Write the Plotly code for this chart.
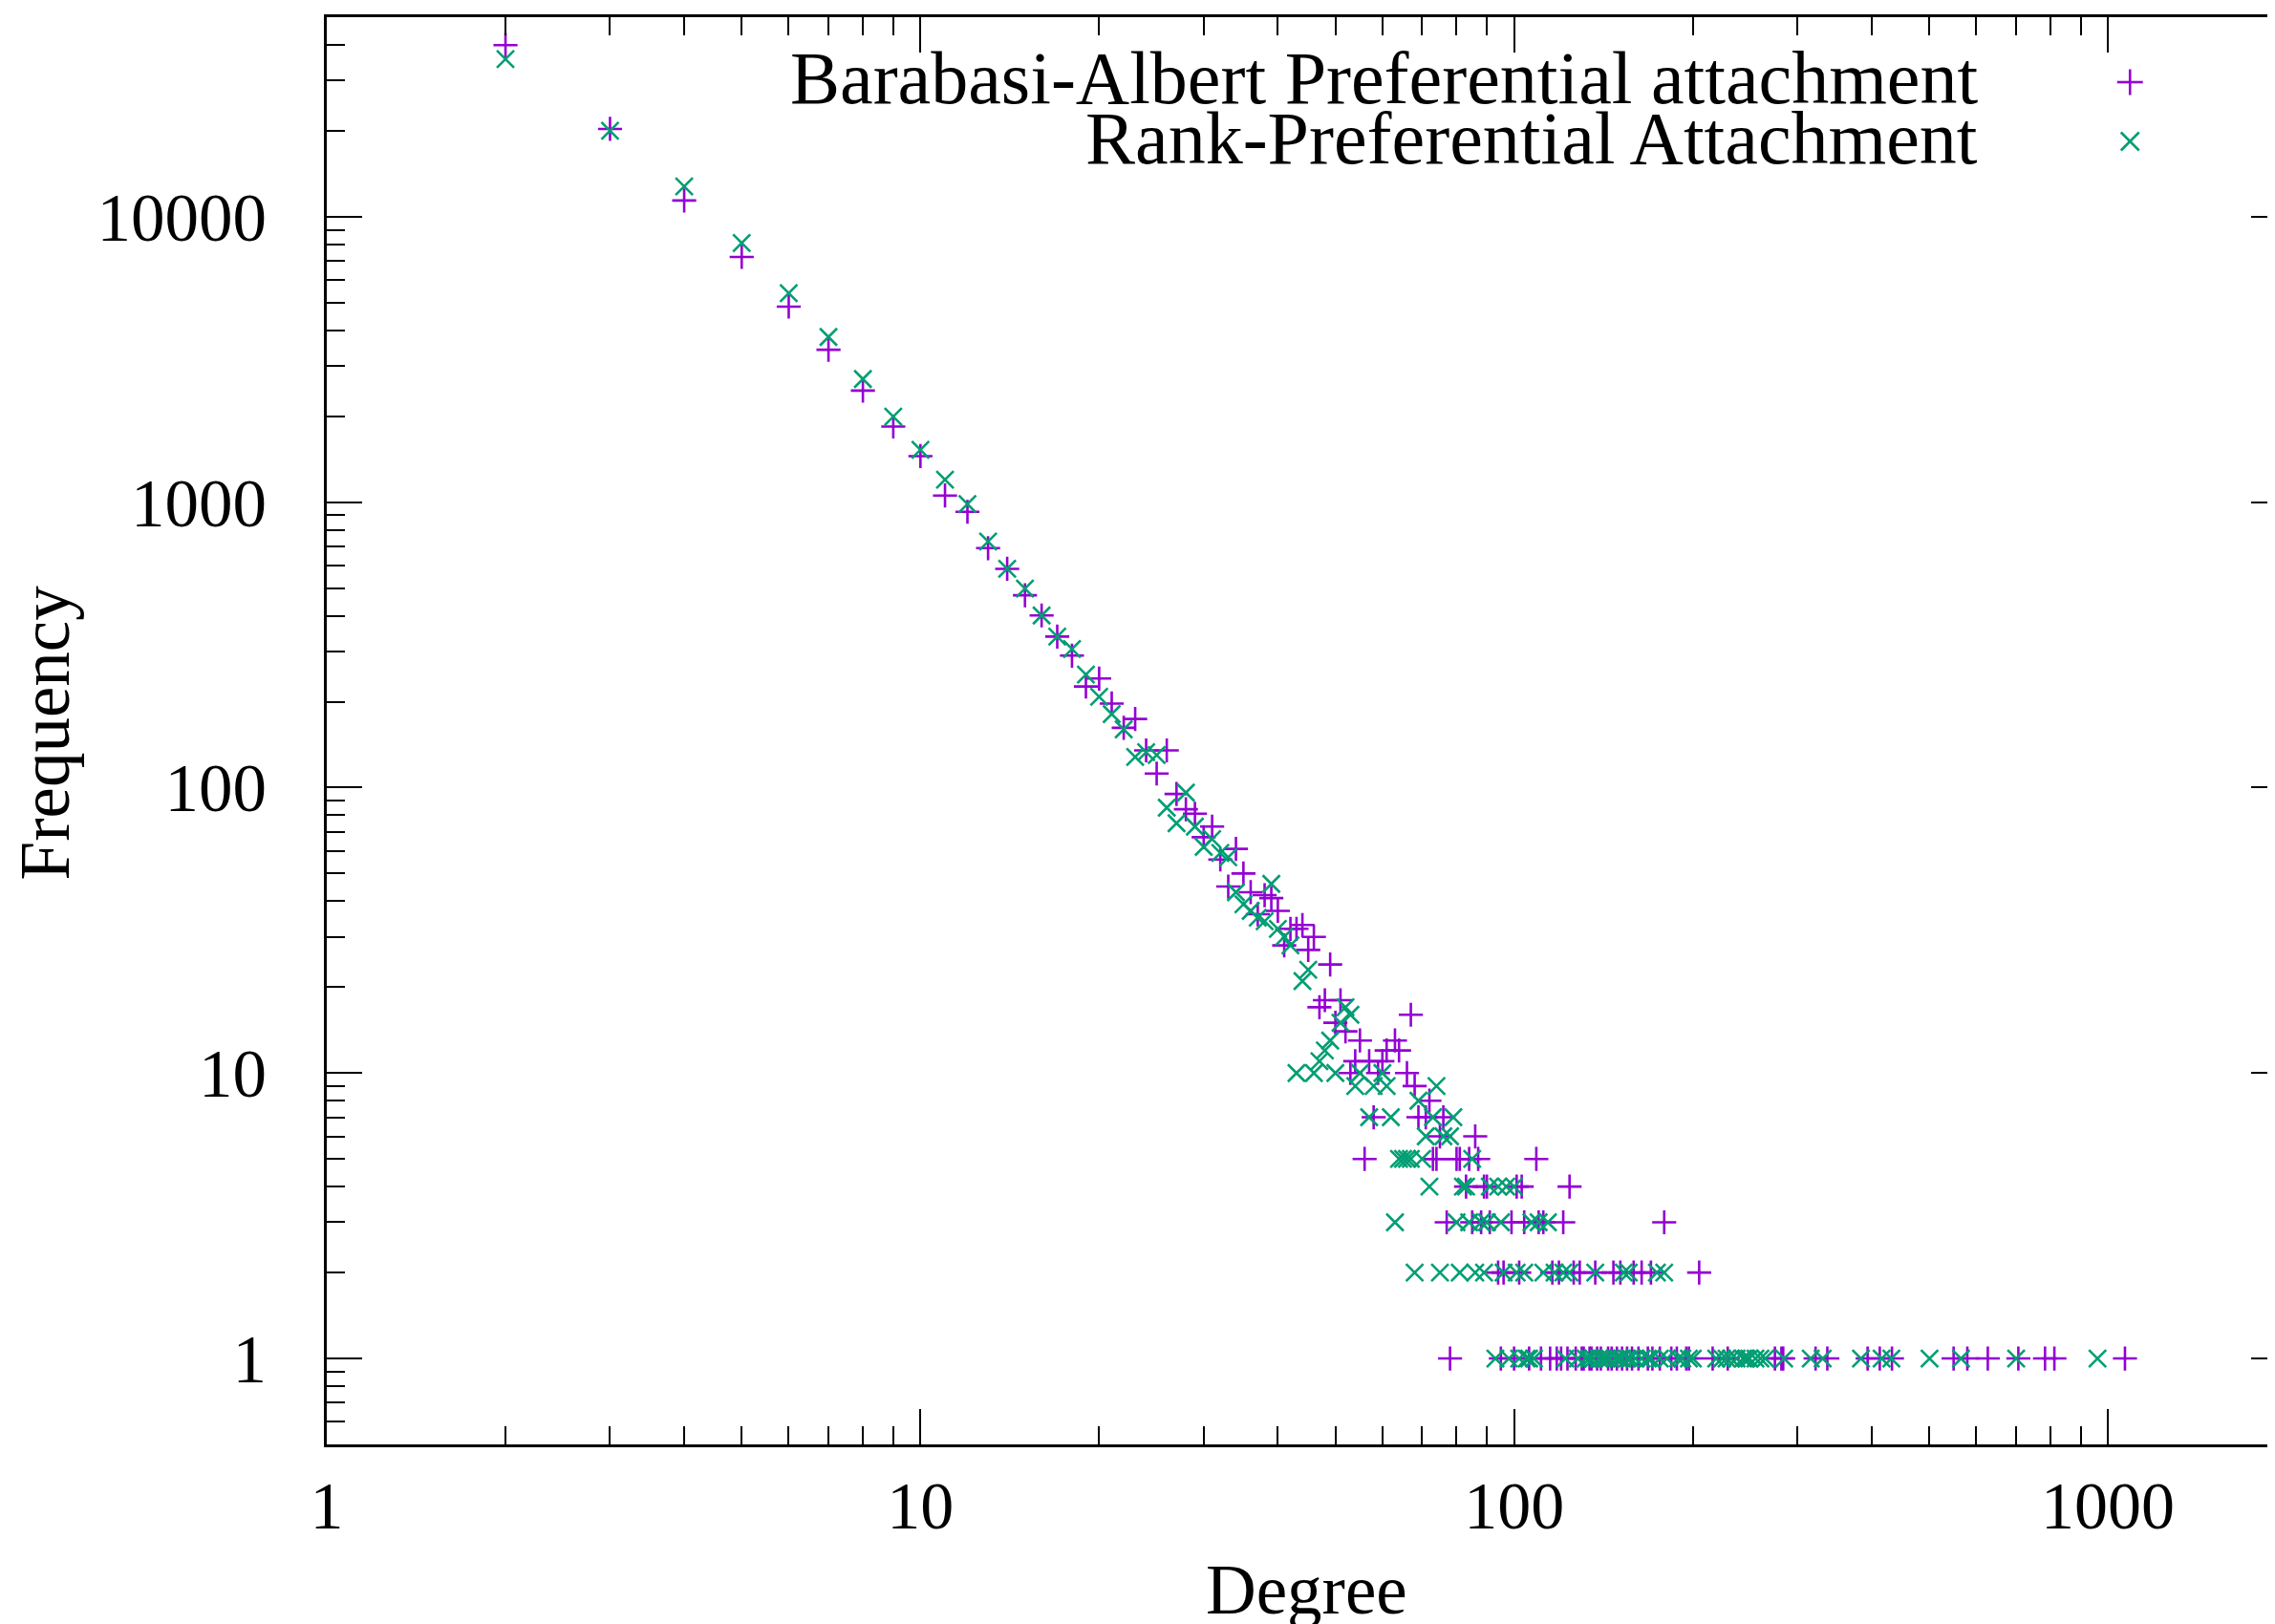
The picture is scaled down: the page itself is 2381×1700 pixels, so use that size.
import plotly.graph_objects as go

# ---------------- data ----------------
# Barabasi-Albert Preferential attachment (+)
ba_degree = [2, 3, 4, 5, 6, 7, 8, 9, 10, 11, 12, 13, 14, 15, 16, 17, 18, 19, 20, 21,
             22, 23, 24, 25, 26, 27, 28, 29, 30, 31, 32, 33, 34, 35, 36, 37, 38, 39, 40, 41,
             42, 43, 44, 45, 46, 47, 48, 49, 50, 51, 52, 53, 54, 55, 56, 57, 58, 59, 60, 61,
             63, 64, 66, 67, 68, 69, 71, 72, 73, 74, 75, 76, 77, 80, 81, 83, 84, 85, 86, 87,
             88, 89, 90, 91, 99, 101, 103, 104, 109, 110, 112, 121, 124, 179,
             94, 96, 102, 116, 119, 126, 129, 137, 147, 151, 159, 164, 170, 205,
             78, 95, 100, 106, 111, 115, 118, 120, 123, 127, 130, 131, 134, 135, 138, 140,
             144, 146, 149, 152, 155, 158, 162, 168, 171, 176, 184, 188, 195, 197, 216, 229,
             275, 282, 284, 322, 337, 394, 413, 433, 550, 580, 628, 707, 784, 813, 1069]
ba_freq = [39900, 20300, 11400, 7230, 4840, 3420, 2460, 1840, 1450, 1055, 925, 690, 584, 472, 401, 338, 290, 226, 241, 197,
           162, 174, 135, 112, 135, 95, 84, 81, 67, 73, 56, 45, 61, 50, 43, 36, 42, 41, 37, 28,
           32, 32, 33, 27, 30, 17, 18, 24, 15, 18, 14, 10, 11, 13, 5, 11, 7, 10, 11, 12,
           13, 12, 10, 16, 9, 7, 7, 8, 5, 5, 6, 7, 3, 5, 5, 4, 5, 3, 6, 5,
           3, 4, 4, 3, 3, 4, 4, 3, 5, 3, 3, 3, 4, 3,
           2, 2, 2, 2, 2, 2, 2, 2, 2, 2, 2, 2, 2, 2,
           1, 1, 1, 1, 1, 1, 1, 1, 1, 1, 1, 1, 1, 1, 1, 1,
           1, 1, 1, 1, 1, 1, 1, 1, 1, 1, 1, 1, 1, 1, 1, 1,
           1, 1, 1, 1, 1, 1, 1, 1, 1, 1, 1, 1, 1, 1, 1]

# Rank-Preferential Attachment (x)
rpa_degree = [2, 3, 4, 5, 6, 7, 8, 9, 10, 11, 12, 13, 14, 15, 16, 17, 18, 19, 20, 21,
              22, 23, 24, 25, 26, 27, 28, 29, 30, 31, 32, 33, 34, 35, 36, 37, 38, 39, 40, 41,
              42, 43, 44, 45, 46, 47, 48, 49, 50, 51, 52, 53, 54, 55, 57, 58, 60, 61, 62, 63,
              64, 65, 66, 67, 68, 69, 70, 71, 72, 73, 74, 75, 76, 78, 79, 80, 81, 82, 83, 84,
              85, 86, 88, 89, 90, 91, 94, 95, 96, 97, 100, 101, 104, 107, 110, 112, 114, 117, 121, 124,
              137, 153, 156, 174, 179,
              93, 98, 102, 105, 106, 108, 122, 128, 132, 134, 136, 139, 141, 143, 145, 148,
              150, 152, 155, 157, 160, 164, 168, 170, 176, 181, 189, 192, 197, 200, 219, 224,
              228, 232, 237, 243, 246, 249, 255, 260, 265, 285, 316, 331, 384, 416, 432, 501,
              566, 701, 961]
rpa_freq = [35650, 20000, 12770, 8090, 5400, 3790, 2700, 1993, 1525, 1199, 985, 728, 584, 498, 401, 338, 306, 249, 208, 181,
            160, 128, 133, 130, 85, 75, 96, 73, 62, 66, 59, 57, 43, 39, 37, 35, 34, 46, 32, 30,
            28, 10, 21, 23, 10, 11, 12, 13, 10, 15, 17, 16, 9, 10, 7, 9, 10, 9, 7, 3,
            5, 5, 5, 5, 2, 8, 5, 6, 4, 7, 9, 2, 6, 6, 7, 3, 2, 4, 4, 3,
            5, 2, 3, 2, 3, 4, 4, 3, 2, 4, 4, 2, 2, 3, 3, 2, 3, 2, 2, 2,
            2, 2, 2, 2, 2,
            1, 1, 1, 1, 1, 1, 1, 1, 1, 1, 1, 1, 1, 1, 1, 1,
            1, 1, 1, 1, 1, 1, 1, 1, 1, 1, 1, 1, 1, 1, 1, 1,
            1, 1, 1, 1, 1, 1, 1, 1, 1, 1, 1, 1, 1, 1, 1, 1,
            1, 1, 1]

series_names = ["Barabasi-Albert Preferential attachment", "Rank-Preferential Attachment"]
x_limits = [1, 2000]
y_limits = [0.5, 50000]
x_major = [1, 10, 100, 1000]
x_major_labels = ["1", "10", "100", "1000"]
y_major = [1, 10, 100, 1000, 10000]
y_major_labels = ["1", "10", "100", "1000", "10000"]
x_minor = [m * 10 ** k for k in range(0, 3) for m in range(2, 10)]
y_minor = [m / 10 for m in range(5, 10)] + [m * 10 ** k for k in range(0, 4) for m in range(2, 10)] + [20000, 30000, 40000]

PURPLE = "#9400D3"
GREEN = "#009E73"
FONT = "Liberation Serif"

# ---------------- layout geometry ----------------
# page offset of the figure (default body margin of the html page)
OFF = 8
# wanted plot-area edges in page pixels (right edge lies just past the window, as in the original)
PL, PT, PR, PB = 342, 18, 2396, 1512
L, T = PL - OFF, PT - OFF
PW, PH = PR - PL, PB - PT
W = L + PW
H = 1700 - OFF
B = H - T - PH


def px(xp):
    return (xp - PL) / PW


def py(yp):
    return (PB - yp) / PH


fig = go.Figure()
fig.add_trace(go.Scatter(
    x=ba_degree, y=ba_freq, mode="markers", name=series_names[0],
    marker=dict(symbol="cross-thin", size=18, color=PURPLE,
                line=dict(color=PURPLE, width=2.6)),
    showlegend=False, cliponaxis=True))
fig.add_trace(go.Scatter(
    x=rpa_degree, y=rpa_freq, mode="markers", name=series_names[1],
    marker=dict(symbol="x-thin", size=18, color=GREEN,
                line=dict(color=GREEN, width=2.6)),
    showlegend=False, cliponaxis=True))

import math
x_range = [math.log10(v) for v in x_limits]
y_range = [math.log10(v) for v in y_limits]

fig.update_layout(
    width=W, height=H,
    margin=dict(l=L, r=0, t=T, b=B, pad=0),
    paper_bgcolor="white", plot_bgcolor="white",
    showlegend=False,
    xaxis=dict(type="log", range=x_range, showgrid=False, zeroline=False,
               showline=True, linecolor="black", linewidth=2.7, mirror="ticks",
               ticks="inside", ticklen=37, tickwidth=2.2, tickcolor="black",
               tickmode="array", tickvals=x_major, ticktext=x_major_labels,
               tickfont=dict(family=FONT, size=70, color="black"), ticklabelstandoff=1,
               minor=dict(tickmode="array", tickvals=x_minor, ticks="inside",
                          ticklen=19, tickwidth=2.2, tickcolor="black", showgrid=False)),
    yaxis=dict(type="log", range=y_range, showgrid=False, zeroline=False,
               showline=True, linecolor="black", linewidth=2.7, mirror="ticks",
               ticks="inside", ticklen=37, tickwidth=2.2, tickcolor="black",
               tickmode="array", tickvals=y_major, ticktext=y_major_labels,
               tickfont=dict(family=FONT, size=71, color="black"), ticklabelstandoff=46,
               minor=dict(tickmode="array", tickvals=y_minor, ticks="inside",
                          ticklen=19, tickwidth=2.2, tickcolor="black", showgrid=False)),
)

annotations = [
    dict(text=series_names[0], x=px(2075), y=py(82), xref="paper", yref="paper",
         xanchor="right", yanchor="middle", showarrow=False,
         font=dict(family=FONT, size=78, color="black")),
    dict(text=series_names[1], x=px(2075), y=py(145), xref="paper", yref="paper",
         xanchor="right", yanchor="middle", showarrow=False,
         font=dict(family=FONT, size=78, color="black")),
    dict(text="Degree", x=px(1369), y=py(1664), xref="paper", yref="paper",
         xanchor="center", yanchor="middle", showarrow=False,
         font=dict(family=FONT, size=73, color="black")),
    dict(text="Frequency", x=px(47), y=py(767), xref="paper", yref="paper",
         xanchor="center", yanchor="middle", showarrow=False, textangle=-90,
         font=dict(family=FONT, size=73, color="black")),
]
fig.update_layout(annotations=annotations)

# legend keys (drawn to the right of the text, as in the original)
kx, k1y, k2y = 2232, 86, 148
hp, hx = 13.5, 9.5
shapes = [
    dict(type="line", xref="paper", yref="paper", x0=px(kx - hp), x1=px(kx + hp), y0=py(k1y), y1=py(k1y),
         line=dict(color=PURPLE, width=2.6)),
    dict(type="line", xref="paper", yref="paper", x0=px(kx), x1=px(kx), y0=py(k1y - hp), y1=py(k1y + hp),
         line=dict(color=PURPLE, width=2.6)),
    dict(type="line", xref="paper", yref="paper", x0=px(kx - hx), x1=px(kx + hx), y0=py(k2y - hx), y1=py(k2y + hx),
         line=dict(color=GREEN, width=2.6)),
    dict(type="line", xref="paper", yref="paper", x0=px(kx - hx), x1=px(kx + hx), y0=py(k2y + hx), y1=py(k2y - hx),
         line=dict(color=GREEN, width=2.6)),
]
fig.update_layout(shapes=shapes)

fig.write_html("out.html")
